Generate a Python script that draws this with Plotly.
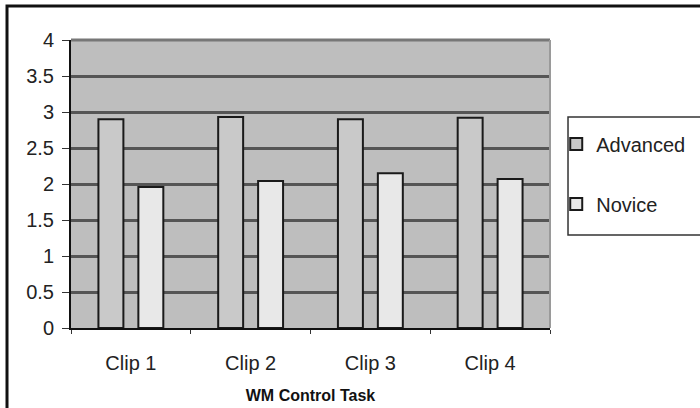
import plotly.graph_objects as go

categories = ["Clip 1", "Clip 2", "Clip 3", "Clip 4"]
advanced = [2.90, 2.93, 2.90, 2.92]
novice = [1.96, 2.04, 2.15, 2.07]
y_ticks = [0, 0.5, 1, 1.5, 2, 2.5, 3, 3.5, 4]

FONT = "Liberation Sans, Arial, sans-serif"

fig = go.Figure()
fig.add_trace(go.Bar(name="Advanced", x=categories, y=advanced, legendgroup="a",
                     marker=dict(color="#c9c9c9", line=dict(color="#1a1a1a", width=2))))
fig.add_trace(go.Bar(name="Novice", x=categories, y=novice, legendgroup="n",
                     marker=dict(color="#e8e8e8", line=dict(color="#1a1a1a", width=2))))

fig.update_layout(
    width=700, height=408,
    margin=dict(l=71, r=150, t=40, b=80, autoexpand=False),
    paper_bgcolor="white",
    plot_bgcolor="#bebebe",
    barmode="group",
    bargap=0.333,
    bargroupgap=0.375,
    font=dict(family=FONT, size=20, color="#222"),
    showlegend=True,
    legend=dict(x=1.013, y=0.707, xanchor="left", yanchor="top",
                bgcolor="rgba(0,0,0,0)", borderwidth=0,
                tracegroupgap=31, font=dict(size=20, color="#222")),
    xaxis=dict(
        automargin=False,
        showgrid=False, showline=True, linecolor="#111", linewidth=2,
        ticks="outside", tickson="boundaries", ticklen=4, tickcolor="#333",
        tickfont=dict(size=20, color="#222"), ticklabelstandoff=16,
        title=dict(text="<b>WM Control Task</b>", font=dict(size=16, color="#111"), standoff=17),
    ),
    yaxis=dict(
        automargin=False,
        range=[0, 4], tickvals=y_ticks, ticktext=[str(v) for v in y_ticks],
        showgrid=True, gridcolor="#555555", gridwidth=2.5,
        showline=True, linecolor="#111", linewidth=2,
        ticks="outside", ticklen=7, tickcolor="#333",
        tickfont=dict(size=20, color="#222"), ticklabelstandoff=4,
        zeroline=False,
    ),
    shapes=[
        # plot area top/right edge
        dict(type="line", xref="paper", yref="paper", x0=0, x1=1, y0=1, y1=1,
             line=dict(color="#777777", width=3), layer="above"),
        dict(type="line", xref="paper", yref="paper", x0=1, x1=1, y0=0, y1=1,
             line=dict(color="#9a9a9a", width=2), layer="above"),
        # legend box
        dict(type="rect", xref="paper", yref="paper", x0=1.0376, x1=1.5, y0=0.323, y1=0.733,
             line=dict(color="#333", width=1.5)),
        # outer chart border
        dict(type="rect", xref="paper", yref="paper", x0=-0.1336, x1=1.6, y0=-0.5, y1=1.118,
             line=dict(color="#111", width=3)),
    ],
)

fig.write_html("out.html", config={"displayModeBar": False},
               post_script="document.body.style.margin='0';")
